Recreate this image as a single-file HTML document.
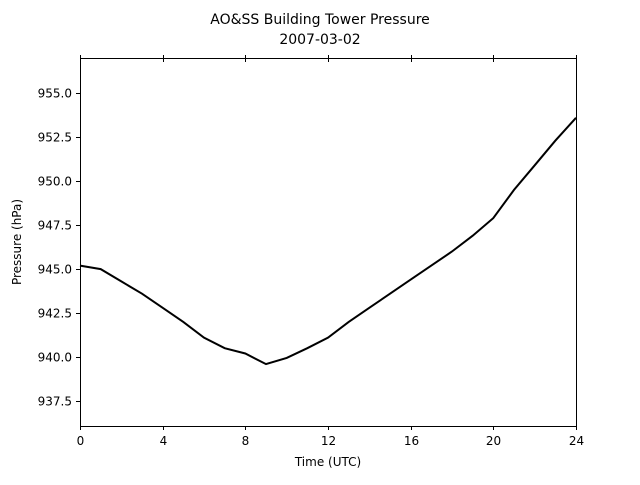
<!DOCTYPE html>
<html><head><meta charset="utf-8"><style>
body{margin:0;background:#fff;}
svg text{font-family:"DejaVu Sans","Liberation Sans",sans-serif;fill:#000;}
</style></head><body>
<svg width="640" height="480" id="chart">
<text x="320" y="24" text-anchor="middle" font-size="14">AO&amp;SS Building Tower Pressure</text>
<text x="320" y="44" text-anchor="middle" font-size="14">2007-03-02</text>
<text x="328" y="466" text-anchor="middle" font-size="12">Time (UTC)</text>
<text transform="translate(21,242) rotate(-90)" text-anchor="middle" font-size="12">Pressure (hPa)</text>
<g id="ticks"></g>
<path id="line" fill="none" stroke="#000" stroke-width="2"/>
<rect x="80.5" y="58.5" width="496" height="368" fill="none" stroke="#000" stroke-width="1"/>
</svg>
<script>
const hours=[0,1,2,3,4,5,6,7,8,9,10,11,12,13,14,15,16,17,18,19,20,21,22,23,24];
const pressure=[945.2,945.0,944.3,943.6,942.8,942.0,941.1,940.5,940.2,939.6,939.95,940.5,941.1,942.0,942.8,943.6,944.4,945.2,946.0,946.9,947.9,949.5,950.9,952.3,953.6];
const xTicks=[0,4,8,12,16,20,24];
const yTicks=[937.5,940.0,942.5,945.0,947.5,950.0,952.5,955.0];
const X0=80,X1=576,Y0=426,Y1=58,xmin=0,xmax=24,ymin=936.08,ymax=957.0;
const sx=v=>X0+(v-xmin)/(xmax-xmin)*(X1-X0);
const sy=v=>Y0-(v-ymin)/(ymax-ymin)*(Y0-Y1);
const NS="http://www.w3.org/2000/svg";
const g=document.getElementById('ticks');
function mk(t,a){const e=document.createElementNS(NS,t);for(const k in a)e.setAttribute(k,a[k]);return e;}
xTicks.forEach(v=>{const x=Math.round(sx(v))+0.5;
const t=mk('line',{x1:x,x2:x,y1:426,y2:430,stroke:'#000'});


g.appendChild(t);
const t2=mk('line',{x1:x,x2:x,y1:55,y2:62,stroke:'#000'});


g.appendChild(t2);
const l=mk('text',{x:x,y:445,'text-anchor':'middle','font-size':12});l.textContent=v;


g.appendChild(l);});
yTicks.forEach(v=>{const y=Math.round(sy(v))+0.5;
const t=mk('line',{x1:76,x2:80,y1:y,y2:y,stroke:'#000'});


g.appendChild(t);
const l=mk('text',{x:72,y:y+4,'text-anchor':'end','font-size':12});l.textContent=v.toFixed(1);


g.appendChild(l);});
document.getElementById('line').setAttribute('d',hours.map((h,i)=>(i?'L':'M')+sx(h).toFixed(1)+' '+sy(pressure[i]).toFixed(1)).join(' '));
</script>
</body></html>
